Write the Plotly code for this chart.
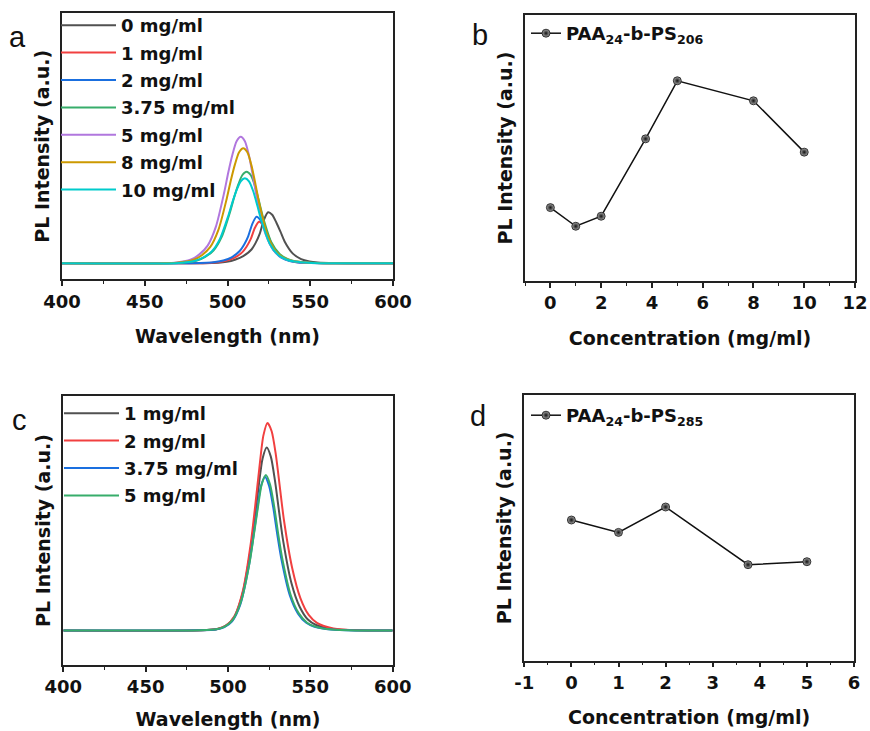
import plotly.graph_objects as go

# ---------------- panel a: PL spectra of PAA24-b-PS206 at several concentrations
a_labels = ["0 mg/ml", "1 mg/ml", "2 mg/ml", "3.75 mg/ml", "5 mg/ml", "8 mg/ml", "10 mg/ml"]
a_colors = ["#515151", "#F14040", "#1A6FDF", "#37AD6B", "#B177DE", "#CC9900", "#00CBCC"]

a_wl_0 = [400, 484.5, 494.5, 499.5, 504.5, 509.5, 514.5, 517, 519.5, 522, 524.5, 527, 529.5, 532, 534.5, 539.5, 544.5, 549.5, 554.5, 564.5, 579.5, 600]
a_pl_0 = [0, 0.1, 0.5, 1.5, 3.6, 7.1, 13.8, 20.4, 29.6, 43.4, 51, 48.5, 40.8, 31.6, 21.9, 9.7, 4.1, 1.8, 0.8, 0.2, 0, 0]

a_wl_1 = [400, 479, 489, 494, 499, 504, 509, 511.5, 514, 516.5, 519, 521.5, 524, 526.5, 529, 534, 539, 544, 549, 559, 574, 600]
a_pl_1 = [0, 0.1, 0.4, 1.0, 2.5, 5.4, 11.2, 16.6, 24.1, 35.3, 41.5, 38.2, 29.9, 19.9, 12.5, 5.0, 2.1, 0.8, 0.4, 0.1, 0, 0]

a_wl_2 = [400, 477.5, 487.5, 492.5, 497.5, 502.5, 507.5, 510, 512.5, 515, 517.5, 520, 522.5, 525, 527.5, 532.5, 537.5, 542.5, 547.5, 557.5, 572.5, 600]
a_pl_2 = [0, 0.1, 0.5, 1.2, 2.8, 6.0, 12.6, 18.6, 27.0, 39.5, 46.5, 42.8, 33.5, 22.3, 14.0, 5.6, 2.3, 0.9, 0.5, 0.1, 0, 0]

a_wl_375 = [400, 471.5, 481.5, 486.5, 491.5, 496.5, 501.5, 504, 506.5, 509, 511.5, 514, 516.5, 519, 521.5, 526.5, 531.5, 536.5, 541.5, 551.5, 566.5, 600]
a_pl_375 = [0, 0.5, 2.7, 6.4, 12.8, 26.5, 51.2, 65.9, 78.7, 88.3, 91.5, 88.3, 77.8, 62.2, 45.8, 21.0, 9.2, 4.1, 1.8, 0.5, 0, 0]

a_wl_5 = [400, 468, 478, 483, 488, 493, 498, 500.5, 503, 505.5, 508, 510.5, 513, 515.5, 518, 523, 528, 533, 538, 548, 563, 600]
a_pl_5 = [0, 0.6, 3.8, 8.9, 17.7, 36.7, 70.8, 91.1, 108.8, 122.1, 126.5, 122.1, 107.5, 86.0, 63.3, 29.1, 12.7, 5.7, 2.5, 0.6, 0, 0]

a_wl_8 = [400, 469.5, 479.5, 484.5, 489.5, 494.5, 499.5, 502, 504.5, 507, 509.5, 512, 514.5, 517, 519.5, 524.5, 529.5, 534.5, 539.5, 549.5, 564.5, 600]
a_pl_8 = [0, 0.6, 3.5, 8.1, 16.1, 33.4, 64.4, 82.8, 98.9, 111.0, 115, 111.0, 97.8, 78.2, 57.5, 26.5, 11.5, 5.2, 2.3, 0.6, 0, 0]

a_wl_10 = [400, 470.5, 480.5, 485.5, 490.5, 495.5, 500.5, 503, 505.5, 508, 510.5, 513, 515.5, 518, 520.5, 525.5, 530.5, 535.5, 540.5, 550.5, 565.5, 600]
a_pl_10 = [0, 0.4, 2.6, 6.0, 11.9, 24.7, 47.6, 61.2, 73.1, 82.0, 85, 82.0, 72.3, 57.8, 42.5, 19.6, 8.5, 3.8, 1.7, 0.4, 0, 0]

a_wl = [a_wl_0, a_wl_1, a_wl_2, a_wl_375, a_wl_5, a_wl_8, a_wl_10]
a_pl = [a_pl_0, a_pl_1, a_pl_2, a_pl_375, a_pl_5, a_pl_8, a_pl_10]

# ---------------- panel b: peak PL intensity vs concentration, PAA24-b-PS206
b_conc = [0, 1, 2, 3.75, 5, 8, 10]
b_pl = [73.3, 54.7, 64.7, 142.0, 200.0, 180.0, 128.7]

# ---------------- panel c: PL spectra of PAA24-b-PS285
c_labels = ["1 mg/ml", "2 mg/ml", "3.75 mg/ml", "5 mg/ml"]
c_colors = ["#515151", "#F14040", "#1A6FDF", "#37AD6B"]

c_wl_1 = [400, 483.5, 493.5, 498.5, 503.5, 508.5, 513.5, 516, 518.5, 521, 523.5, 526, 528.5, 531, 533.5, 538.5, 543.5, 548.5, 553.5, 563.5, 578.5, 600]
c_pl_1 = [0, 0.2, 1.5, 4.6, 12.8, 34.8, 78.7, 109.8, 142.7, 172.0, 183, 173.9, 150.1, 119.0, 89.7, 47.6, 23.8, 11.0, 5.5, 1.5, 0.2, 0]

c_wl_2 = [400, 484, 494, 499, 504, 509, 514, 516.5, 519, 521.5, 524, 526.5, 529, 531.5, 534, 539, 544, 549, 554, 564, 579, 600]
c_pl_2 = [0, 0.2, 1.7, 5.2, 14.5, 39.4, 89.2, 124.5, 161.9, 195.1, 207.5, 199.2, 176.4, 143.2, 110.0, 62.3, 32.2, 15.6, 7.7, 2.1, 0.2, 0]

c_wl_375 = [400, 482.5, 492.5, 497.5, 502.5, 507.5, 512.5, 515, 517.5, 520, 522.5, 525, 527.5, 530, 532.5, 537.5, 542.5, 547.5, 552.5, 562.5, 577.5, 600]
c_pl_375 = [0, 0.2, 0.9, 3.1, 9.2, 26.1, 62.9, 89.0, 118.2, 144.3, 153.5, 144.3, 122.8, 95.2, 70.6, 35.3, 16.9, 7.7, 3.8, 0.9, 0, 0]

c_wl_5 = [400, 483, 493, 498, 503, 508, 513, 515.5, 518, 520.5, 523, 525.5, 528, 530.5, 533, 538, 543, 548, 553, 563, 578, 600]
c_pl_5 = [0, 0.2, 1.2, 3.9, 10.9, 29.5, 66.9, 93.3, 121.3, 146.2, 155.5, 146.2, 124.4, 96.4, 71.5, 35.8, 17.1, 7.8, 3.9, 0.9, 0, 0]

c_wl = [c_wl_1, c_wl_2, c_wl_375, c_wl_5]
c_pl = [c_pl_1, c_pl_2, c_pl_375, c_pl_5]

# ---------------- panel d: peak PL intensity vs concentration, PAA24-b-PS285
d_conc = [0, 1, 2, 3.75, 5]
d_pl = [140.7, 128.3, 153.7, 96.0, 99.0]
d_tickvals = [-1, 0, 1, 2, 3, 4, 5, 6]
d_ticktext = ["-1", "0", "1", "2", "3", "4", "5", "6"]

BOLD = dict(family="DejaVu Sans", size=18, color="#111111", weight="bold")
TITLE = dict(family="DejaVu Sans", size=19, color="#111111", weight="bold")

# small shaded spheres for the concentration series
SPHERE = dict(size=8, color="#a8a8a8", gradient=dict(type="radial", color="#111111"),
              line=dict(color="#111111", width=0.8))

fig = go.Figure()

for i, (wl, pl, name, col) in enumerate(zip(a_wl, a_pl, a_labels, a_colors)):
    fig.add_trace(go.Scatter(x=wl, y=pl, name=name, mode="lines", legendgroup=f"a{i}",
                             line=dict(color=col, width=2, shape="spline", smoothing=0.7),
                             xaxis="x", yaxis="y", legend="legend"))

fig.add_trace(go.Scatter(x=b_conc, y=b_pl, name="PAA<sub>24</sub>-b-PS<sub>206</sub>",
                         mode="lines+markers",
                         line=dict(color="#111111", width=1.5), marker=SPHERE,
                         xaxis="x2", yaxis="y2", legend="legend2"))

for i, (wl, pl, name, col) in enumerate(zip(c_wl, c_pl, c_labels, c_colors)):
    fig.add_trace(go.Scatter(x=wl, y=pl, name=name, mode="lines", legendgroup=f"c{i}",
                             line=dict(color=col, width=2, shape="spline", smoothing=0.7),
                             xaxis="x3", yaxis="y3", legend="legend3"))

fig.add_trace(go.Scatter(x=d_conc, y=d_pl, name="PAA<sub>24</sub>-b-PS<sub>285</sub>",
                         mode="lines+markers",
                         line=dict(color="#111111", width=1.5), marker=SPHERE,
                         xaxis="x4", yaxis="y4", legend="legend4"))

W, H = 870, 731


def px_x(v):
    return v / W


def px_y(v):
    return 1 - v / H


def xaxis(domain, rng, dtick, minor, title, anchor, standoff=19):
    return dict(domain=domain, range=rng, dtick=dtick, tick0=0, anchor=anchor, automargin=False,
                showline=True, mirror=True, linecolor="#222222", linewidth=1.5,
                ticks="outside", ticklen=5, tickwidth=1.5, tickcolor="#222222",
                minor=dict(dtick=minor, tick0=0, ticks="outside", ticklen=3, tickwidth=1.2,
                           tickcolor="#222222"),
                showgrid=False, zeroline=False, tickfont=BOLD,
                title=dict(text=title, font=TITLE, standoff=standoff))


def yaxis(domain, rng, anchor):
    return dict(domain=domain, range=rng, anchor=anchor, automargin=False,
                showline=True, mirror=True, linecolor="#222222", linewidth=1.5,
                ticks="", showticklabels=False, showgrid=False, zeroline=False,
                title=dict(text="PL Intensity (a.u.)", font=TITLE, standoff=6))


legend_common = dict(bgcolor="rgba(0,0,0,0)", borderwidth=0, font=BOLD,
                     xanchor="left", yanchor="top", tracegroupgap=1)

xaxis4 = xaxis([px_x(524.3), px_x(854)], [-1, 6], 1, 0.5, "Concentration (mg/ml)", "y4")
xaxis4.update(tickmode="array", tickvals=d_tickvals, ticktext=d_ticktext)

fig.update_layout(
    width=W, height=H, margin=dict(l=0, r=0, t=0, b=0, autoexpand=False),
    paper_bgcolor="white", plot_bgcolor="white",
    xaxis=xaxis([px_x(62), px_x(393)], [400, 600], 50, 25, "Wavelength (nm)", "y"),
    yaxis=yaxis([px_y(279.3), px_y(13.3)], [-16, 250], "x"),
    xaxis2=xaxis([px_x(525), px_x(855)], [-1, 12], 2, 1, "Concentration (mg/ml)", "y2"),
    yaxis2=yaxis([px_y(281), px_y(15)], [0, 265.7], "x2"),
    xaxis3=xaxis([px_x(63.3), px_x(392.7)], [400, 600], 50, 25, "Wavelength (nm)", "y3", standoff=16),
    yaxis3=yaxis([px_y(665), px_y(396)], [-34.5, 234.5], "x3"),
    xaxis4=xaxis4,
    yaxis4=yaxis([px_y(660.7), px_y(395)], [0, 265.7], "x4"),
    legend=dict(x=px_x(56), y=px_y(7), itemwidth=55, **legend_common),
    legend2=dict(x=px_x(526), y=px_y(15), **legend_common),
    legend3=dict(x=px_x(59), y=px_y(395), itemwidth=55, **legend_common),
    legend4=dict(x=px_x(526), y=px_y(397), **legend_common),
    showlegend=True,
)

panel_letters = [("a", 17.5, 37), ("b", 479.5, 35), ("c", 19, 420), ("d", 478, 416)]
for letter, lx, ly in panel_letters:
    fig.add_annotation(text=letter, x=px_x(lx), y=px_y(ly), xref="paper", yref="paper",
                       showarrow=False, xanchor="center", yanchor="middle",
                       font=dict(family="Liberation Sans", size=29, color="#111111"))

fig.write_html("out.html")
